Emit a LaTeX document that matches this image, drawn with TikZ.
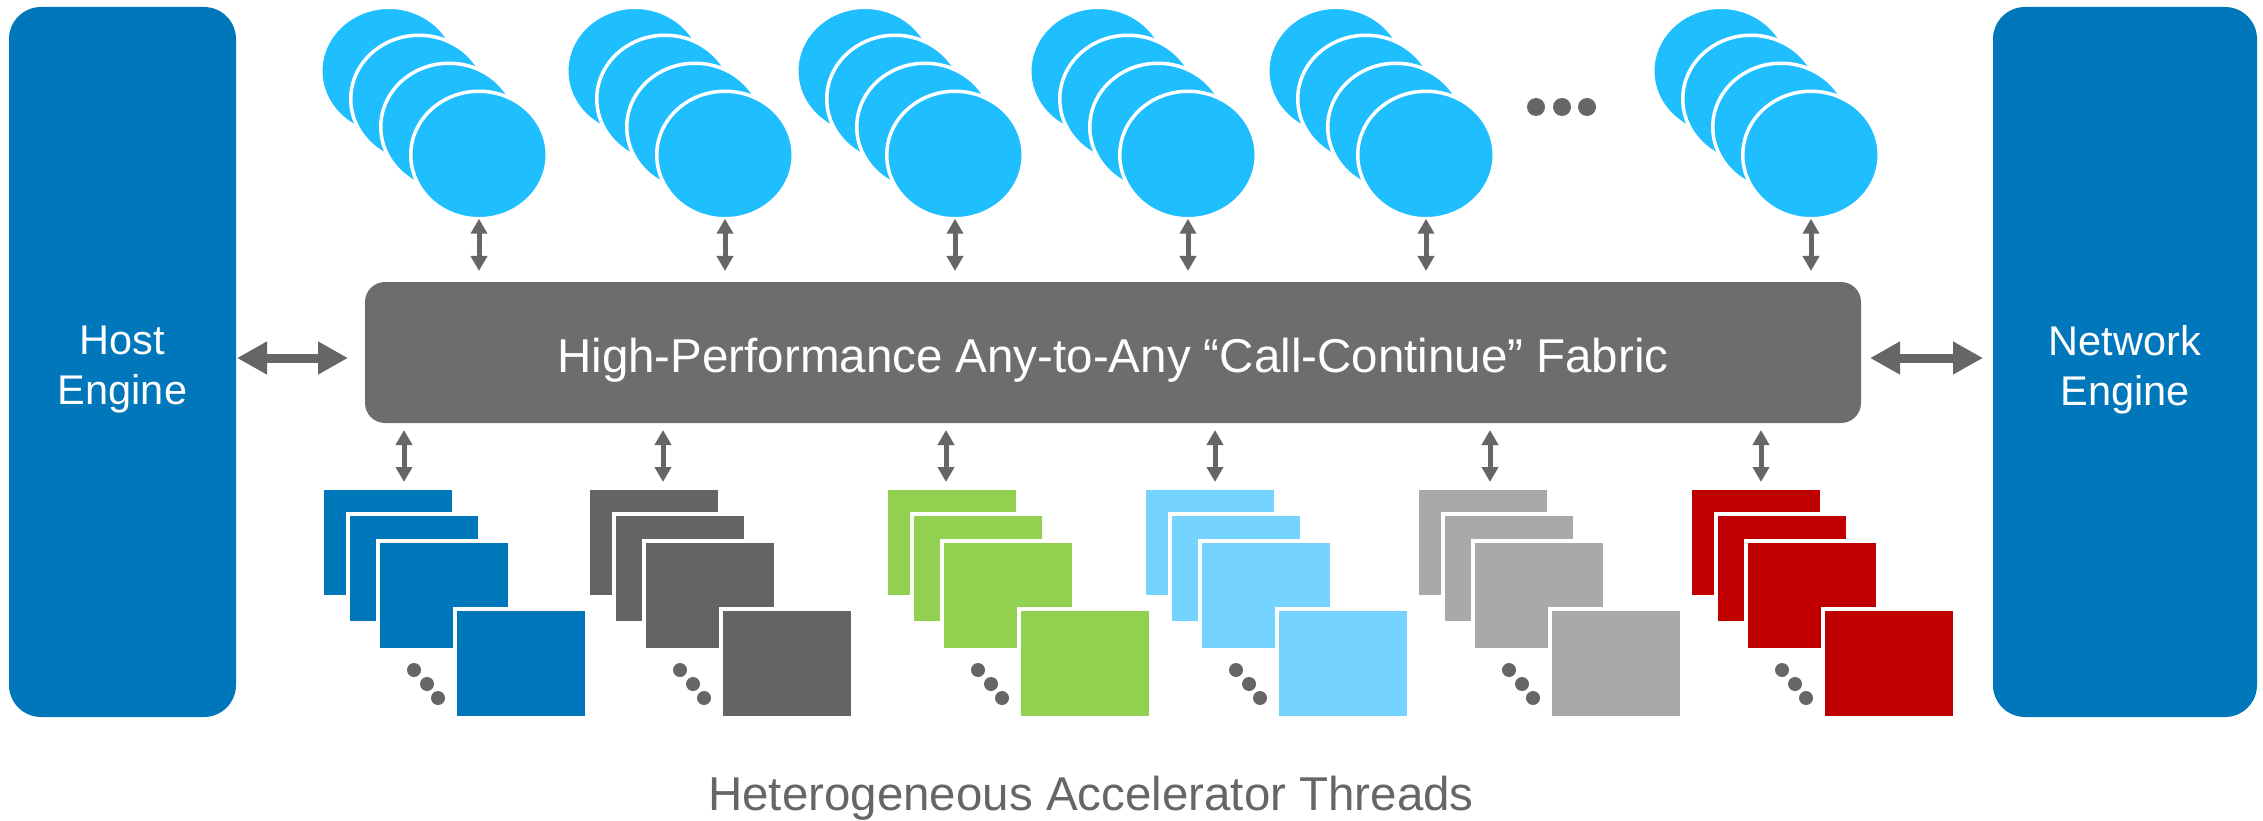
\documentclass[tikz,border=0pt]{standalone}
\usepackage{fontspec}
\setmainfont{Liberation Sans}
\usetikzlibrary{arrows.meta,shapes.geometric,calc}

\definecolor{engineblue}{RGB}{0,118,187}
\definecolor{threadcyan}{RGB}{30,190,255}
\definecolor{fabricgray}{RGB}{109,109,109}
\definecolor{arrowgray}{RGB}{102,102,102}
\definecolor{darkcard}{RGB}{100,100,100}
\definecolor{greencard}{RGB}{146,208,80}
\definecolor{skycard}{RGB}{117,211,255}
\definecolor{silvercard}{RGB}{169,169,169}
\definecolor{redcard}{RGB}{192,0,0}

\begin{document}
\begin{tikzpicture}[x=1pt,y=-1pt,
  engine/.style={fill=engineblue, rounded corners=32pt, inner sep=0pt, outer sep=0pt},
  enginelabel/.style={text=white, font=\fontsize{41.5}{50}\selectfont, align=center, inner sep=0pt},
  fabric/.style={fill=fabricgray, rounded corners=20pt, minimum width=1496pt, minimum height=141pt,
    inner sep=0pt, outer sep=0pt, text=white, font=\fontsize{47.5}{57}\selectfont,
    text height=39pt, text depth=0pt},
  thread/.style={ellipse, fill=threadcyan, draw=white, line width=3.5pt, minimum width=136.5pt,
    minimum height=127.5pt, inner sep=0pt, outer sep=0pt},
  bigarrow/.style={arrowgray, line width=9pt,
    {Triangle[length=30pt,width=31pt]}-{Triangle[length=30pt,width=31pt]}},
  smallarrow/.style={arrowgray, line width=5pt,
    {Triangle[length=15pt,width=16pt]}-{Triangle[length=15pt,width=16pt]}},
  card/.style={draw=white, line width=4pt, minimum width=132pt, minimum height=109pt,
    inner sep=0pt, outer sep=0pt, anchor=north west},
  moredot/.style={circle, fill=arrowgray, inner sep=0pt, outer sep=0pt},
  caption/.style={text=arrowgray, font=\fontsize{47.5}{57}\selectfont, inner sep=0pt, anchor=base},
]
\useasboundingbox (0,0) rectangle (2263,821);

% side engines
\node[engine, minimum width=227pt, minimum height=710pt] (host) at (122.5,362) {};
\node[enginelabel] (hostlabel) at ([yshift=-7.5pt]host.center) {Host\\Engine};
\node[engine, minimum width=264pt, minimum height=710pt] (net) at (2125,362) {};
\node[enginelabel] (netlabel) at ([yshift=-7.5pt]net.center) {Network\\Engine};

% central fabric
\node[fabric] (fab) at (1113,352.5) {High-Performance Any-to-Any “Call-Continue” Fabric};

% links between the engines and the fabric
\coordinate (hy) at (0,358);
\draw[bigarrow, shorten <=1pt, shorten >=17pt] (host.east |- hy) -- (fab.west |- hy);
\draw[bigarrow, shorten <=9pt, shorten >=10pt] (fab.east |- hy) -- (net.west |- hy);

% stacks of threads above the fabric
\foreach \cx [count=\i] in {479,725,955,1188,1426,1811} {
  \foreach \k in {3,2,1}
    \node[thread] (t\i-\k) at ({\cx-30*\k},{155-28*\k}) {};
  \node[thread] (t\i) at (\cx,155) {};
  \draw[smallarrow, shorten >=11pt] (t\i.south) -- (t\i.south |- fab.north);
}

% ellipsis between the thread stacks
\foreach \dx [count=\j] in {1536,1562,1587}
  \node[moredot, minimum size=18pt] (more\j) at (\dx,107) {};

% heterogeneous accelerator stacks below the fabric
\foreach \L/\ax/\col [count=\i] in {324/404/engineblue, 590/663/darkcard, 888/946/greencard,
                                   1146/1215/skycard, 1419/1490/silvercard, 1692/1761/redcard} {
  \node[card, fill=\col] (s\i a) at ({\L-2},488) {};
  \node[card, fill=\col] (s\i b) at ({\L+24},514) {};
  \node[card, fill=\col] (s\i c) at ({\L+54},541) {};
  \node[card, fill=\col] (s\i d) at ({\L+131},609) {};
  \node[moredot, minimum size=14pt] (s\i dot1) at ({\L+90},670) {};
  \node[moredot, minimum size=14pt] (s\i dot2) at ({\L+103},684) {};
  \node[moredot, minimum size=14pt] (s\i dot3) at ({\L+114},698) {};
  \coordinate (a\i) at (\ax,490);
  \draw[smallarrow, shorten <=7pt, shorten >=8pt] (fab.south -| a\i) -- (a\i);
}

\node[caption] (cap) at (1091,810) {Heterogeneous Accelerator Threads};
\end{tikzpicture}
\end{document}
